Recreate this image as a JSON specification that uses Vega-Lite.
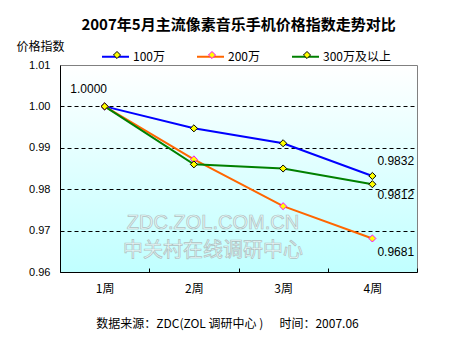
{
  "$schema": "https://vega.github.io/schema/vega-lite/v6.json",
  "width": 357,
  "height": 207,
  "autosize": "none",
  "padding": {"left": 60, "top": 65, "right": 33, "bottom": 65},
  "background": "white",
  "title": {
    "text": "2007年5月主流像素音乐手机价格指数走势对比",
    "font": "Noto Sans CJK SC",
    "fontSize": 15,
    "fontWeight": "bold",
    "color": "black",
    "anchor": "middle",
    "offset": 7
  },
  "config": {
    "view": {
      "stroke": "#808080",
      "strokeWidth": 1,
      "fill": {
        "gradient": "linear",
        "x1": 0, "y1": 0, "x2": 0, "y2": 1,
        "stops": [
          {"offset": 0, "color": "#FFFFFF"},
          {"offset": 1, "color": "#C0FFFF"}
        ]
      }
    }
  },
  "data": {
    "values": [
      {"week": "1周", "series": "100万", "value": 1.0},
      {"week": "2周", "series": "100万", "value": 0.9947},
      {"week": "3周", "series": "100万", "value": 0.9911},
      {"week": "4周", "series": "100万", "value": 0.9832},
      {"week": "1周", "series": "200万", "value": 1.0},
      {"week": "2周", "series": "200万", "value": 0.9872},
      {"week": "3周", "series": "200万", "value": 0.9759},
      {"week": "4周", "series": "200万", "value": 0.9681},
      {"week": "1周", "series": "300万及以上", "value": 1.0},
      {"week": "2周", "series": "300万及以上", "value": 0.986},
      {"week": "3周", "series": "300万及以上", "value": 0.985},
      {"week": "4周", "series": "300万及以上", "value": 0.9812}
    ]
  },
  "encoding": {
    "x": {
      "field": "week",
      "type": "ordinal",
      "scale": {"type": "band", "paddingInner": 0, "paddingOuter": 0},
      "axis": {
        "title": "数据来源：ZDC(ZOL 调研中心 )\u00a0\u00a0\u00a0\u00a0\u00a0\u00a0时间：2007.06",
        "titleFont": "Noto Sans CJK SC",
        "titleFontSize": 12,
        "titleFontWeight": "normal",
        "titleColor": "black",
        "titleX": 167,
        "titleY": 55,
        "titleAlign": "center",
        "titleBaseline": "alphabetic",
        "labelAngle": 0,
        "labelFont": "Noto Sans CJK SC",
        "labelFontSize": 12,
        "labelColor": "black",
        "labelPadding": 15,
        "tickBand": "extent",
        "tickSize": -4,
        "tickColor": "black",
        "domainColor": "black",
        "grid": false
      }
    },
    "y": {
      "field": "value",
      "type": "quantitative",
      "scale": {"domain": [0.96, 1.01], "nice": false, "zero": false},
      "axis": {
        "title": "价格指数",
        "titleAngle": 0,
        "titleX": -44,
        "titleY": -15,
        "titleAlign": "left",
        "titleBaseline": "alphabetic",
        "titleFont": "Noto Sans CJK SC",
        "titleFontSize": 12,
        "titleFontWeight": "normal",
        "titleColor": "black",
        "values": [0.96, 0.97, 0.98, 0.99, 1.0, 1.01],
        "format": ".2f",
        "labelFont": "Liberation Sans",
        "labelFontSize": 11,
        "labelColor": "black",
        "labelPadding": 10,
        "ticks": false,
        "domainColor": "black",
        "grid": true,
        "gridColor": {"condition": {"test": "datum.value > 1.005 || datum.value < 0.965", "value": "transparent"}, "value": "black"},
        "gridDash": [4, 3]
      }
    }
  },
  "layer": [
    {
      "data": {"values": [{"t": "ZDC.ZOL.COM.CN", "v": 0.9704}]},
      "mark": {"type": "text", "font": "Liberation Sans", "fontSize": 20, "align": "center", "baseline": "alphabetic", "fill": "#EAFAFA", "stroke": "#AFC0C0", "strokeWidth": 0.7},
      "encoding": {
        "x": {"datum": "2周", "type": "ordinal", "bandPosition": 0.714},
        "y": {"field": "v", "type": "quantitative"},
        "text": {"field": "t"}
      }
    },
    {
      "data": {"values": [{"t": "中关村在线调研中心", "v": 0.9637}]},
      "mark": {"type": "text", "font": "Noto Sans CJK SC", "fontSize": 20, "align": "center", "baseline": "alphabetic", "fill": "#EAFAFA", "stroke": "#AFC0C0", "strokeWidth": 0.7},
      "encoding": {
        "x": {"datum": "2周", "type": "ordinal", "bandPosition": 0.714},
        "y": {"field": "v", "type": "quantitative"},
        "text": {"field": "t"}
      }
    },
    {
      "mark": {"type": "line", "strokeWidth": 2},
      "encoding": {
        "color": {
          "field": "series",
          "type": "nominal",
          "scale": {"domain": ["100万", "200万", "300万及以上"], "range": ["#0000FF", "#FF6600", "#008000"]},
          "legend": {
            "orient": "none",
            "legendX": 41,
            "legendY": -23,
            "direction": "horizontal",
            "title": null,
            "symbolType": "stroke",
            "symbolSize": 729,
            "symbolStrokeWidth": 2,
            "labelFont": "Noto Sans CJK SC",
            "labelFontSize": 12,
            "labelColor": "black",
            "labelOffset": 3,
            "columnPadding": 28,
            "padding": 0
          }
        }
      }
    },
    {
      "mark": {"type": "point", "shape": "diamond", "size": 50, "fill": "#FFFF00", "strokeWidth": 1, "opacity": 1},
      "encoding": {
        "stroke": {
          "field": "series",
          "type": "nominal",
          "scale": {"range": ["#000000", "#FF00FF", "#000000"]},
          "legend": {
            "orient": "none",
            "legendX": 51,
            "legendY": -16,
            "direction": "horizontal",
            "title": null,
            "symbolType": "diamond",
            "symbolSize": 50,
            "symbolFillColor": "#FFFF00",
            "symbolStrokeWidth": 1,
            "symbolOpacity": 1,
            "labelExpr": "''",
            "labelFontSize": 12,
            "labelOffset": 3,
            "columnPadding": 80,
            "padding": 0
          }
        }
      }
    },
    {
      "transform": [{"filter": "datum.week == '1周' && datum.series == '100万'"}],
      "mark": {"type": "text", "font": "Liberation Sans", "fontSize": 12, "align": "center", "baseline": "middle", "dx": -16, "dy": -17, "color": "black"},
      "encoding": {"text": {"field": "value", "type": "quantitative", "format": ".4f"}}
    },
    {
      "transform": [{"filter": "datum.week == '4周' && datum.series == '100万'"}],
      "mark": {"type": "text", "font": "Liberation Sans", "fontSize": 12, "align": "left", "baseline": "middle", "dx": 5, "dy": -15, "color": "black"},
      "encoding": {"text": {"field": "value", "type": "quantitative", "format": ".4f"}}
    },
    {
      "transform": [{"filter": "datum.week == '4周' && datum.series == '300万及以上'"}],
      "mark": {"type": "text", "font": "Liberation Sans", "fontSize": 12, "align": "left", "baseline": "middle", "dx": 5, "dy": 11, "color": "black"},
      "encoding": {"text": {"field": "value", "type": "quantitative", "format": ".4f"}}
    },
    {
      "transform": [{"filter": "datum.week == '4周' && datum.series == '200万'"}],
      "mark": {"type": "text", "font": "Liberation Sans", "fontSize": 12, "align": "left", "baseline": "middle", "dx": 5, "dy": 14, "color": "black"},
      "encoding": {"text": {"field": "value", "type": "quantitative", "format": ".4f"}}
    }
  ]
}
